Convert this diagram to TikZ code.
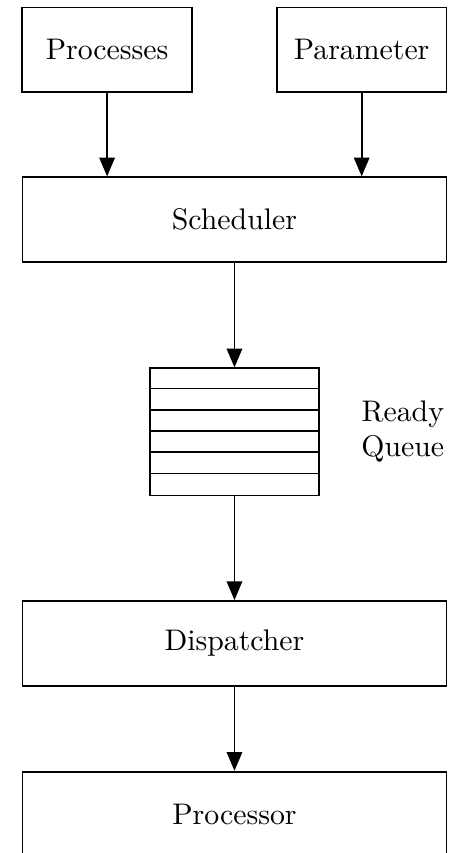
\documentclass[tikz,border=0pt]{standalone}
\usetikzlibrary{arrows.meta}
\begin{document}
\begin{tikzpicture}[
  semithick,
  box/.style={draw, rectangle, minimum height=1cm, inner sep=0pt},
  arr/.style={-{Triangle[length=6.3pt,width=5.2pt]}},
]
\useasboundingbox (0,0) rectangle (5.377,-10.059);
\node[box, minimum width=2cm] (proc) at (1.263,-0.588) {Processes};
\node[box, minimum width=2cm] (param) at (4.265,-0.588) {Parameter};
\node[box, minimum width=5cm] (sched) at (2.765,-2.59) {Scheduler};
\node[draw, rectangle, minimum width=2cm, minimum height=1.5cm, inner sep=0pt] (queue) at (2.765,-5.093) {};
\foreach \i in {1,...,5}
  \draw ([yshift=-\i*0.25cm]queue.north west) -- ([yshift=-\i*0.25cm]queue.north east);
\node[align=center] (rq) at (4.75,-5.09) {Ready\\Queue};
\node[box, minimum width=5cm] (disp) at (2.765,-7.587) {Dispatcher};
\node[box, minimum width=5cm] (cpu) at (2.765,-9.6) {Processor};
\draw[arr] (proc.south) -- (proc.south |- sched.north);
\draw[arr] (param.south) -- (param.south |- sched.north);
\draw[arr] (sched.south) -- (queue.north);
\draw[arr] (queue.south) -- (disp.north);
\draw[arr] (disp.south) -- (cpu.north);
\end{tikzpicture}
\end{document}
